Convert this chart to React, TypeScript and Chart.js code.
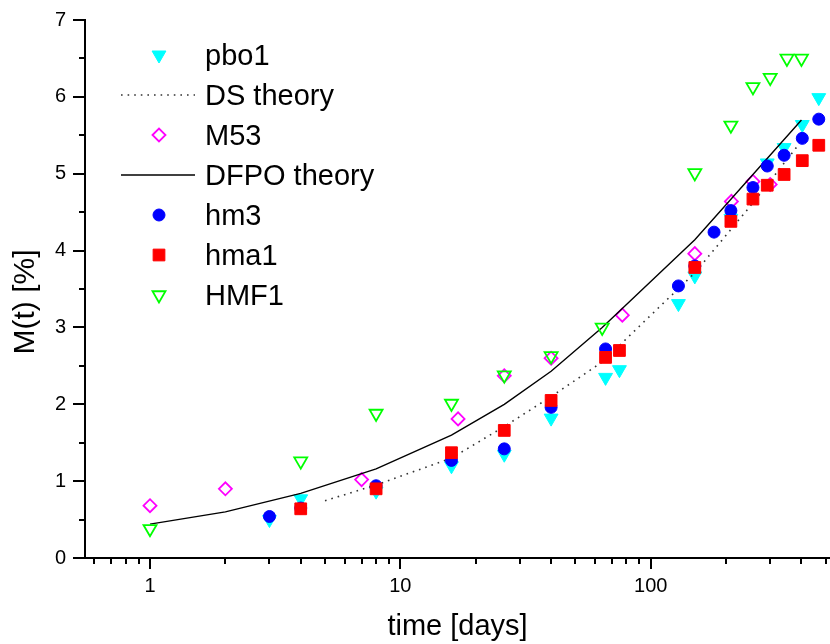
import React, { useEffect, useRef } from 'react';
import { Chart, registerables } from 'chart.js';
import { drawPoint } from 'chart.js/helpers';

Chart.register(...registerables);

const FONT = '"Liberation Sans", Arial, Helvetica, sans-serif';

// ---- data (time in days, M(t) in %) ----
const pbo1X = [3, 4, 8, 16, 26, 40, 66, 75, 129, 150, 209, 292, 341, 403, 469];
const pbo1Y = [0.5, 0.77, 0.87, 1.2, 1.35, 1.82, 2.35, 2.45, 3.31, 3.67, 4.42, 5.14, 5.34, 5.64, 5.99];

const dsX = [5, 8, 16, 26, 40, 64, 150, 256, 390];
const dsY = [0.745, 0.95, 1.3, 1.71, 2.1, 2.55, 3.71, 4.62, 5.38];

const m53X = [1, 2, 7, 17, 26, 40, 77, 150, 210, 256, 300];
const m53Y = [0.68, 0.9, 1.02, 1.81, 2.37, 2.6, 3.16, 3.96, 4.64, 4.9, 4.86];

const dfpoX = [1, 2, 4, 8, 16, 26, 40, 64, 150, 400];
const dfpoY = [0.44, 0.6, 0.84, 1.16, 1.6, 2.0, 2.43, 3.0, 4.14, 5.7];

const hm3X = [3, 4, 8, 16, 26, 40, 66, 129, 150, 179, 209, 256, 292, 341, 403, 469];
const hm3Y = [0.54, 0.65, 0.94, 1.27, 1.42, 1.96, 2.72, 3.54, 3.8, 4.24, 4.52, 4.82, 5.1, 5.24, 5.46, 5.71];

const hma1X = [4, 8, 16, 26, 40, 66, 75, 150, 209, 256, 292, 341, 403, 469];
const hma1Y = [0.64, 0.9, 1.37, 1.66, 2.05, 2.61, 2.7, 3.78, 4.38, 4.67, 4.85, 4.99, 5.17, 5.37];

const hmf1X = [1, 4, 8, 16, 26, 40, 64, 150, 209, 256, 300, 350, 400];
const hmf1Y = [0.38, 1.26, 1.88, 2.01, 2.38, 2.63, 3.0, 5.01, 5.63, 6.13, 6.25, 6.5, 6.5];

// ---- axis ticks ----
const xMajorTicks = [1, 10, 100];
const xMinorTicks = [0.6, 0.7, 0.8, 0.9, 2, 3, 4, 5, 6, 7, 8, 9, 20, 30, 40, 50, 60, 70, 80, 90, 200, 300, 400, 500];
const yMajorTicks = [0, 1, 2, 3, 4, 5, 6, 7];
const yMinorTicks = [0.5, 1.5, 2.5, 3.5, 4.5, 5.5, 6.5];

const legendLabels = ['pbo1', 'DS theory', 'M53', 'DFPO theory', 'hm3', 'hma1', 'HMF1'];
const yTitle = 'M(t) [%]';
const xTitle = 'time [days]';

const pts = (xs: number[], ys: number[]) => xs.map((x, i) => ({ x, y: ys[i] }));

const tickPlugin = {
  id: 'axisTicks',
  afterDraw(chart: any) {
    const { ctx, chartArea, scales } = chart;
    const xs = scales.x;
    const ys = scales.y;
    ctx.save();
    ctx.strokeStyle = '#000';
    ctx.lineWidth = 2;
    ctx.beginPath();
    const b = chartArea.bottom;
    const l = chartArea.left;
    xMajorTicks.forEach((v) => {
      const p = Math.round(xs.getPixelForValue(v));
      ctx.moveTo(p, b);
      ctx.lineTo(p, b + 11);
    });
    xMinorTicks.forEach((v) => {
      const p = Math.round(xs.getPixelForValue(v));
      ctx.moveTo(p, b);
      ctx.lineTo(p, b + 6);
    });
    yMajorTicks.forEach((v) => {
      const p = Math.round(ys.getPixelForValue(v));
      ctx.moveTo(l, p);
      ctx.lineTo(l - 12, p);
    });
    yMinorTicks.forEach((v) => {
      const p = Math.round(ys.getPixelForValue(v));
      ctx.moveTo(l, p);
      ctx.lineTo(l - 6, p);
    });
    ctx.stroke();

    // y axis title, placed like the original (slightly below the axis centre)
    ctx.fillStyle = '#000';
    ctx.font = `30px ${FONT}`;
    ctx.textAlign = 'center';
    ctx.textBaseline = 'middle';
    ctx.translate(26, (chartArea.top + chartArea.bottom) / 2 + 13);
    ctx.rotate(-Math.PI / 2);
    ctx.fillText(yTitle, 0, 0);
    ctx.restore();
  },
};

const legendPlugin = {
  id: 'customLegend',
  afterDraw(chart: any) {
    const { ctx } = chart;
    ctx.save();
    chart.data.datasets.forEach((ds: any, i: number) => {
      const y = 55 + 40 * i;
      if (ds.showLine) {
        ctx.beginPath();
        ctx.strokeStyle = ds.borderColor;
        ctx.lineWidth = ds.borderWidth;
        ctx.setLineDash(ds.borderDash || []);
        ctx.moveTo(121, y);
        ctx.lineTo(195, y);
        ctx.stroke();
        ctx.setLineDash([]);
      } else {
        ctx.fillStyle = ds.backgroundColor;
        ctx.strokeStyle = ds.borderColor;
        ctx.lineWidth = ds.borderWidth;
        drawPoint(ctx, {
          pointStyle: ds.pointStyle,
          rotation: ds.rotation || 0,
          radius: ds.pointRadius,
          borderWidth: ds.borderWidth,
        }, 159, y);
      }
      ctx.fillStyle = '#000';
      ctx.font = `29px ${FONT}`;
      ctx.textAlign = 'left';
      ctx.textBaseline = 'alphabetic';
      ctx.fillText(legendLabels[i], 205, y + 10);
    });
    ctx.restore();
  },
};

export default function App() {
  const ref = useRef<HTMLCanvasElement>(null);

  useEffect(() => {
    if (!ref.current) return;
    const marker = (extra: any) => ({
      showLine: false,
      clip: false,
      pointHoverRadius: extra.pointRadius,
      ...extra,
    });
    const chart = new Chart(ref.current, {
      type: 'scatter',
      data: {
        datasets: [
          marker({
            label: 'pbo1', data: pts(pbo1X, pbo1Y), pointStyle: 'triangle', rotation: 180,
            pointRadius: 8, backgroundColor: '#00FFFF', borderColor: '#00FFFF', borderWidth: 1, order: 7,
          }),
          {
            label: 'DS theory', data: pts(dsX, dsY), showLine: true, pointRadius: 0, pointHoverRadius: 0,
            borderColor: '#333333', borderWidth: 1.6, borderDash: [1.6, 5], backgroundColor: 'transparent',
            clip: false, order: 6,
          },
          marker({
            label: 'M53', data: pts(m53X, m53Y), pointStyle: 'rectRot',
            pointRadius: 6.5, backgroundColor: 'rgba(0,0,0,0)', borderColor: '#FF00FF', borderWidth: 1.8, order: 5,
          }),
          {
            label: 'DFPO theory', data: pts(dfpoX, dfpoY), showLine: true, pointRadius: 0, pointHoverRadius: 0,
            borderColor: '#000000', borderWidth: 1.4, backgroundColor: 'transparent', clip: false, order: 4,
          },
          marker({
            label: 'hm3', data: pts(hm3X, hm3Y), pointStyle: 'circle',
            pointRadius: 6, backgroundColor: '#0000FF', borderColor: '#0000FF', borderWidth: 1, order: 3,
          }),
          marker({
            label: 'hma1', data: pts(hma1X, hma1Y), pointStyle: 'rect',
            pointRadius: 8.3, backgroundColor: '#FF0000', borderColor: '#FF0000', borderWidth: 1, order: 2,
          }),
          marker({
            label: 'HMF1', data: pts(hmf1X, hmf1Y), pointStyle: 'triangle', rotation: 180,
            pointRadius: 7.5, backgroundColor: 'rgba(0,0,0,0)', borderColor: '#00FF00', borderWidth: 1.8, order: 1,
          }),
        ],
      },
      options: {
        responsive: false,
        animation: false,
        events: [],
        layout: { autoPadding: false, padding: { top: 20, right: 0, left: 0, bottom: 0 } },
        plugins: { legend: { display: false }, tooltip: { enabled: false } },
        scales: {
          x: {
            type: 'logarithmic',
            min: 0.55,
            max: 520,
            afterFit: (s: any) => { s.height = 86; },
            grid: { display: false, drawTicks: true, tickLength: 16 },
            border: { display: true, color: '#000', width: 2 },
            ticks: {
              autoSkip: false,
              maxRotation: 0,
              padding: 0,
              color: '#000',
              font: { family: FONT, size: 20 },
              callback: (v: any) => (xMajorTicks.includes(Number(v)) ? String(v) : ''),
            },
            title: {
              display: true,
              text: xTitle,
              color: '#000',
              font: { family: FONT, size: 29 },
              padding: { top: 0, bottom: 0 },
            },
          },
          y: {
            type: 'linear',
            min: 0,
            max: 7,
            afterFit: (s: any) => { s.width = 85; },
            grid: { display: false, drawTicks: true, tickLength: 19 },
            border: { display: true, color: '#000', width: 2 },
            ticks: {
              stepSize: 1,
              padding: 0,
              color: '#000',
              font: { family: FONT, size: 20 },
            },
            title: { display: false, text: yTitle },
          },
        },
      },
      plugins: [tickPlugin, legendPlugin],
    });
    return () => chart.destroy();
  }, []);

  return (
    <div style={{ position: 'absolute', left: 0, top: 0, width: 830, height: 644, background: '#fff', overflow: 'hidden' }}>
      <canvas ref={ref} width={830} height={644} style={{ display: 'block', width: 830, height: 644 }} />
    </div>
  );
}
